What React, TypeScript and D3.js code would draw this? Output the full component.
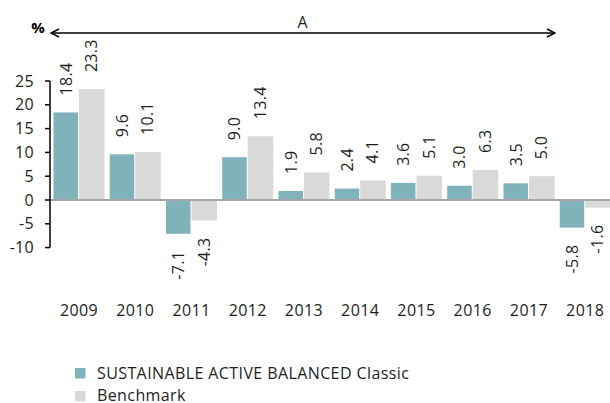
import React from "react";
import * as d3 from "d3";

const years = ["2009", "2010", "2011", "2012", "2013", "2014", "2015", "2016", "2017", "2018"];
const fundValues = [18.4, 9.6, -7.1, 9.0, 1.9, 2.4, 3.6, 3.0, 3.5, -5.8];
const benchValues = [23.3, 10.1, -4.3, 13.4, 5.8, 4.1, 5.1, 6.3, 5.0, -1.6];
const yTicks = [25, 20, 15, 10, 5, 0, -5, -10];
const seriesNames = ["SUSTAINABLE ACTIVE BALANCED Classic", "Benchmark"];
const colors = ["#80b3b9", "#d9d9d9"];

const FONT = "'Open Sans', 'Noto Sans', sans-serif";
const TXT = "#1e1e1e";

export default function App() {
  const W = 610, H = 403;
  const y = d3.scaleLinear().domain([-10, 25]).range([247.6, 81]);
  const xb = d3.scaleBand().domain(years).range([51, 613.2]).paddingInner(0.093).paddingOuter(0.044);
  const xs = d3.scaleBand().domain(["f", "b"]).range([0, xb.bandwidth()]).padding(0);
  const series = [fundValues, benchValues];

  return (
    <svg width={W} height={H} style={{ position: "absolute", left: 0, top: 0 }} fontFamily={FONT}>
      <defs>
        <marker id="ah" viewBox="0 0 10 10" refX="9" refY="5" markerWidth="10" markerHeight="10" markerUnits="userSpaceOnUse" orient="auto-start-reverse">
          <path d="M1,1 L9,5 L1,9" fill="none" stroke="#000" strokeWidth="1.5" />
        </marker>
      </defs>
      {years.map((yr, i) =>
        series.map((vals, s) => {
          const v = vals[i];
          const bx = (xb(yr) as number) + (xs(s === 0 ? "f" : "b") as number);
          const bw = xs.bandwidth();
          const top = y(Math.max(0, v));
          const h = Math.abs(y(v) - y(0));
          const cx = bx + bw / 2;
          const ly = v >= 0 ? y(v) - 17 : y(v) + 17;
          return (
            <g key={yr + s}>
              <rect x={bx} y={top} width={bw - (s === 0 ? 1 : 0)} height={h} fill={colors[s]} />
              <text
                transform={`translate(${cx + 5.5},${ly}) rotate(-90)`}
                textAnchor={v >= 0 ? "start" : "end"}
                fontSize={16}
                letterSpacing={0.3}
                fill={TXT}
              >
                {v.toFixed(1)}
              </text>
            </g>
          );
        })
      )}
      <line x1={50} x2={W} y1={y(0)} y2={y(0)} stroke="#a6a6a6" strokeWidth={2} />
      <line x1={50} x2={50} y1={y(25)} y2={y(-10)} stroke="#000" strokeWidth={1.5} />
      {yTicks.map((t) => (
        <g key={t}>
          <line x1={45} x2={50} y1={y(t)} y2={y(t)} stroke="#000" strokeWidth={1.5} />
          <text x={34} y={y(t) + 5.5} textAnchor="end" fontSize={16} letterSpacing={0.3} fill={TXT}>
            {t}
          </text>
        </g>
      ))}
      {years.map((yr) => (
        <text key={yr} x={(xb(yr) as number) + xb.bandwidth() / 2} y={316} textAnchor="middle" fontSize={16} letterSpacing={0.4} fill={TXT}>
          {yr}
        </text>
      ))}
      <line x1={51} x2={555} y1={33} y2={33} stroke="#000" strokeWidth={1.5} markerStart="url(#ah)" markerEnd="url(#ah)" />
      <text x={302.5} y={28} textAnchor="middle" fontSize={16} fill={TXT}>A</text>
      <text x={38} y={33} textAnchor="middle" fontSize={15} fontWeight="bold" fill="#000">%</text>
      {seriesNames.map((n, i) => (
        <g key={n}>
          <rect x={75} y={368 + i * 23} width={10.5} height={10.5} fill={colors[i]} />
          <text x={97} y={378.5 + i * 22} fontSize={16} letterSpacing={0.4} fill={TXT}>{n}</text>
        </g>
      ))}
    </svg>
  );
}
